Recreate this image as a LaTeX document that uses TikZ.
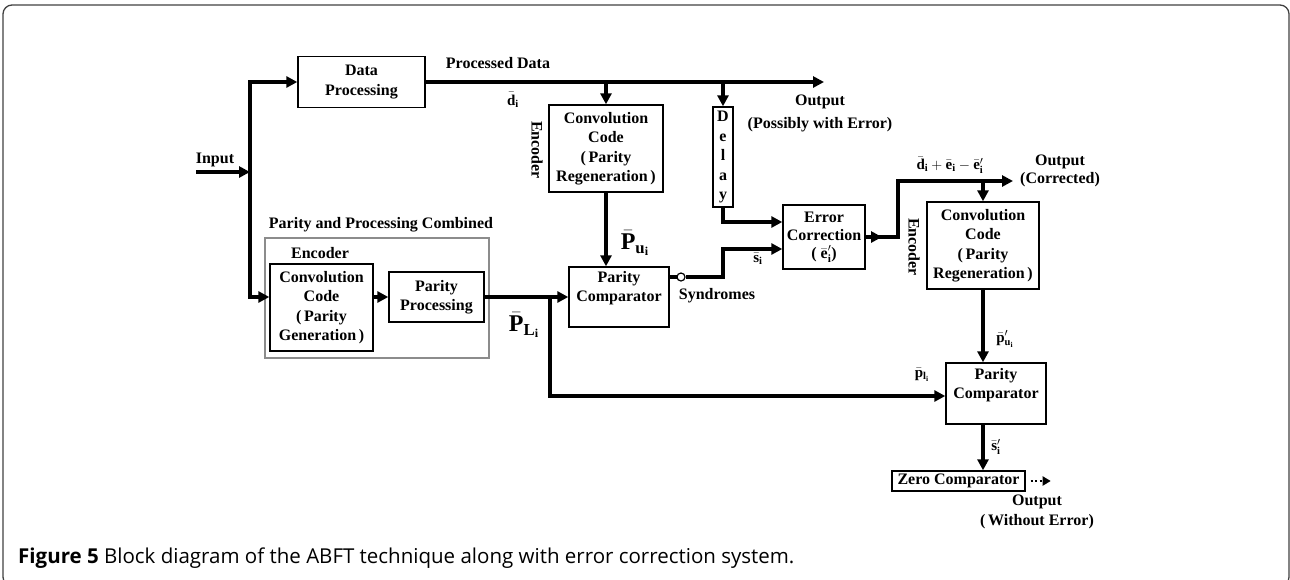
\documentclass[tikz,border=0pt]{standalone}
\usepackage{fontspec}
\setmainfont{Liberation Serif}
\newfontfamily\capfont{Open Sans}
\usetikzlibrary{arrows.meta,calc}
\begin{document}
\begin{tikzpicture}[x=1pt,y=-1pt,
  every node/.style={inner sep=0pt},
  box/.style={draw, line width=1.4pt, align=center, font=\bfseries\fontsize{16}{19.5}\selectfont},
  txt/.style={align=center, font=\bfseries\fontsize{16}{19}\selectfont},
  mth/.style={font=\fontsize{15}{17}\selectfont},
  bigm/.style={font=\fontsize{24}{26}\selectfont},
  ln/.style={line width=3.6pt},
  arr/.style={line width=3.6pt, -{Triangle[length=11pt,width=11pt]}},
]
\useasboundingbox (0,0) rectangle (1290,579);
\begin{scope}
\clip (0,0) rectangle (1290,579);
\draw[line width=1.3pt, black!75, rounded corners=9pt] (3,5) rectangle (1289,586);
\end{scope}

% boxes
\node[box, minimum width=127, minimum height=51] (dp) at (361.5,82) {Data\\Processing};
\node[box, minimum width=114, minimum height=87] (cc1) at (606,148.5) {Convolution\\Code\\(\,Parity\\Regeneration\,)};
\node[box, minimum width=20, minimum height=100] (dl) at (723,157) {D\\e\\l\\a\\y};
\node[box, minimum width=82, minimum height=64, font=\bfseries\fontsize{16}{18}\selectfont] (ec) at (824,237) {Error\\Correction\\( $\bar{\mathbf{e}}'_{\mathbf{i}}$)};
\node[box, minimum width=100, minimum height=60] (pc1) at (619,297) {};
\node[txt] (pc1t) at (619,288) {Parity\\Comparator};
\node[draw=black!45, line width=1.2pt, minimum width=224, minimum height=120] (grp) at (377,298) {};
\node[box, minimum width=103, minimum height=87] (cc0) at (321.5,307.5) {Convolution\\Code\\(\,Parity\\Generation\,)};
\node[box, minimum width=95, minimum height=50] (pp) at (436.5,297) {Parity\\Processing};
\node[box, minimum width=112, minimum height=87] (cc2) at (983,245.5) {Convolution\\Code\\(\,Parity\\Regeneration\,)};
\node[box, minimum width=100, minimum height=61] (pc2) at (996,393.5) {};
\node[txt] (pc2t) at (996,385) {Parity\\Comparator};
\node[box, minimum width=133, minimum height=20] (zc) at (958.5,481) {Zero Comparator};

% coordinates
\coordinate (in) at (196,172);
\coordinate (vtop) at (250,82);
\coordinate (vbot) at (250,297);
\coordinate (out1) at (824,82);
\coordinate (out2) at (1013,181);
\coordinate (br) at (550,297);

% connectors
\draw[arr] (in) -- (in -| vtop);
\draw[ln] ($(vtop)+(0,-1.8)$) -- ($(vbot)+(0,1.8)$);
\draw[arr] ($(vtop)+(-1.8,0)$) -- (dp.west);
\draw[arr] ($(vbot)+(-1.8,0)$) -- (vbot -| cc0.west);
\draw[arr] (dp.east) -- (out1);
\draw[arr] (cc1.north |- dp.east) -- (cc1.north);
\draw[arr] (dl.north |- dp.east) -- (dl.north);
\draw[arr] (dl.south) |- (ec.west |- 0,222);
\draw[arr] (cc1.south) -- (cc1.south |- pc1.north);
\draw[arr] (cc0.east |- pp.west) -- (pp.west);
\draw[arr] (pp.east) -- (pc1.west |- pp.east);
\draw[arr] (br) |- (pc2.west |- 0,396);
\draw[ln] (pc1.east |- 0,277) -- (677,277);
\node[draw, circle, line width=1.2pt, minimum size=8pt, fill=white] (sc) at (681,277) {};
\draw[arr] (sc.east) -- (723,277) |- (ec.west |- 0,249);
\draw[arr] (ec.east) -- (898,237) |- (out2);
\draw[arr] (ec.east) -- (882,237);
\draw[arr] (cc2.north |- out2) -- (cc2.north);
\draw[arr] (cc2.south) -- (cc2.south |- pc2.north);
\draw[arr] (cc2.south |- pc2.south) -- (cc2.south |- zc.north);
\coordinate (zo) at ($(zc.east)+(5,0)$);
\draw[line width=2.5pt, dash pattern=on 2pt off 2.5pt, -{Triangle[length=8pt,width=9pt]}] (zo) -- ($(zo)+(20,0)$);

% labels
\node[txt] (linput) at (215,160) {Input};
\node[txt] (lpd) at (498,63) {Processed Data};
\node[mth] (ld) at (513,100) {$\bar{\mathbf{d}}_{\mathbf{i}}$};
\node[txt, rotate=-90] (lenc1) at (537,150) {Encoder};
\node[txt, font=\bfseries\fontsize{16}{23}\selectfont] (lout1) at (820,113) {Output\\(Possibly with Error)};
\node[txt] (lppc) at (381,225) {Parity and Processing Combined};
\node[txt] (lenc0) at (320,253) {Encoder};
\node[bigm] (lpu) at (635,243) {$\bar{\mathbf{P}}_{\mathbf{u}_{\mathbf{i}}}$};
\node[bigm] (lpl) at (524,325) {$\bar{\mathbf{P}}_{\mathbf{L}_{\mathbf{i}}}$};
\node[mth] (ls) at (758,259) {$\bar{\mathbf{s}}_{\mathbf{i}}$};
\node[txt] (lsyn) at (717,296) {Syndromes};
\node[mth] (lde) at (950,165) {$\bar{\mathbf{d}}_{\mathbf{i}}+\bar{\mathbf{e}}_{\mathbf{i}}-\bar{\mathbf{e}}'_{\mathbf{i}}$};
\node[txt, font=\bfseries\fontsize{16}{18}\selectfont] (lout2) at (1060,171) {Output\\(Corrected)};
\node[txt, rotate=-90] (lenc2) at (914,247) {Encoder};
\node[mth] (lpu2) at (1005,339) {$\bar{\mathbf{p}}'_{\mathbf{u}_{\mathbf{i}}}$};
\node[mth] (lpl2) at (922,375) {$\bar{\mathbf{p}}_{\mathbf{l}_{\mathbf{i}}}$};
\node[mth] (ls2) at (996,447) {$\bar{\mathbf{s}}'_{\mathbf{i}}$};
\node[txt, font=\bfseries\fontsize{16}{20}\selectfont] (lout3) at (1037,512) {Output\\(\,Without Error)};

% caption
\node[anchor=base west, font=\capfont\fontsize{20.5}{22}\selectfont] (cap) at (18,563) {\textbf{Figure 5} Block diagram of the ABFT technique along with error correction system.};
\end{tikzpicture}
\end{document}
